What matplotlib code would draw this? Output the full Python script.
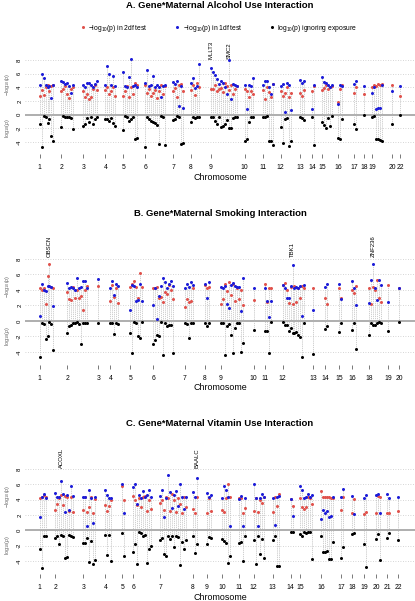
#!/usr/bin/env python3
"""
Gene x maternal exposure interaction scans: per-SNP -log10(p) for the 2df and
1df tests (above zero) and log10(p) ignoring exposure (below zero), grouped by
chromosome, for alcohol, smoking and vitamin use.

Output:
    out.png
"""
import matplotlib
matplotlib.use("Agg")
import matplotlib.pyplot as plt
from matplotlib.lines import Line2D

plt.rcParams["font.family"] = ["Liberation Sans", "DejaVu Sans"]
plt.rcParams["mathtext.fontset"] = "custom"
plt.rcParams["mathtext.rm"] = "Liberation Sans"
plt.rcParams["mathtext.it"] = "Liberation Sans:italic"

# ---------------------------------------------------------------- A: alcohol
alc_chroms = ["1", "2", "3", "4", "5", "6", "7", "8", "9", "10", "11", "12",
              "13", "14", "15", "16", "17", "18", "19", "20", "22"]
alc_start = [0, 11, 22, 33, 42, 53, 67, 76, 86, 103, 112, 121, 131, 137, 142,
             150, 158, 163, 167, 177, 181]
alc_2df = [
    [2.8, 3.6, 2.9, 4.0, 4.3, 3.5, 4.2, 4.4],
    [3.5, 3.7, 4.2, 3.0, 2.5, 3.8, 4.0],
    [3.4, 2.6, 3.0, 2.3, 2.6, 3.8, 4.3, 3.6],
    [3.6, 4.0, 3.0, 3.4, 4.1, 2.8],
    [2.7, 3.5, 4.2, 2.6, 4.0, 3.0, 4.7, 4.4],
    [4.4, 3.2, 3.8, 2.8, 3.2, 3.6, 2.5, 3.5, 4.4, 3.0, 4.2],
    [3.5, 3.9, 2.6, 4.4, 4.5, 3.4],
    [3.6, 4.3, 2.9, 4.6, 4.1],
    [3.7, 3.8, 4.3, 3.4, 3.7, 3.9, 3.3, 4.6, 4.2, 3.6, 4.4, 3.1, 3.8, 4.2],
    [3.8, 3.4, 2.6, 3.5, 3.0],
    [3.6, 2.3, 4.0, 3.3, 2.6, 4.5],
    [3.4, 2.8, 3.2, 4.0, 2.6, 3.2],
    [3.2, 2.8, 3.6],
    [3.4, 4.2],
    [3.6, 3.9, 4.3, 3.8, 4.1, 4.2],
    [1.9, 3.7, 4.4],
    [3.2, 4.0],
    [3.1],
    [4.1, 4.3, 4.2, 4.5, 4.4, 4.5],
    [4.4],
    [2.7],
]
alc_1df = [
    [4.3, 6.0, 5.4, 4.4, 4.0, 4.2, 2.5, 4.3],
    [5.0, 4.8, 4.5, 4.6, 4.2, 3.2, 4.3],
    [4.4, 4.0, 4.7, 4.6, 4.3, 4.0, 4.5, 4.9],
    [4.3, 7.1, 6.0, 4.3, 5.6, 4.2],
    [6.3, 4.2, 4.0, 5.5, 8.2, 4.2, 4.3, 4.0],
    [4.6, 6.6, 4.2, 4.4, 5.7, 4.0, 4.3, 4.1, 2.6, 4.2, 4.4],
    [4.8, 4.5, 5.0, 1.3, 4.2, 1.0],
    [4.6, 5.4, 3.9, 4.2, 7.4],
    [6.8, 6.3, 5.8, 5.2, 4.5, 5.0, 4.6, 4.0, 3.0, 8.0, 2.3, 4.5, 4.4, 4.2],
    [4.4, 0.9, 4.3, 4.2, 5.3],
    [4.4, 4.9, 4.9, 4.1, 3.0, 4.5],
    [4.2, 4.5, 0.4, 4.6, 4.4, 0.7],
    [5.1, 4.6, 4.9],
    [0.8, 4.4],
    [5.5, 4.8, 4.6, 4.3, 4.1, 4.3],
    [1.5, 4.3, 4.2],
    [4.5, 5.0],
    [4.2],
    [3.2, 4.0, 0.9, 1.0, 1.0, 4.3],
    [3.5],
    [4.2],
]
alc_marg = [
    [-1.3, -4.7, -0.2, -0.4, -1.2, -0.6, -3.1, -3.9],
    [-1.8, -0.2, -0.3, -0.4, -0.3, -0.5, -2.1],
    [-1.6, -1.4, -0.5, -1.0, -0.3, -1.3, -0.6, -0.3],
    [-0.6, -0.7, -0.9, -0.5, -1.2, -1.7],
    [-2.2, -0.2, -0.3, -0.9, -0.7, -0.3, -3.6, -3.4],
    [-4.7, -0.4, -0.6, -0.9, -1.0, -1.2, -1.5, -4.3, -0.2, -0.3, -4.4],
    [-0.8, -0.7, -0.2, -0.3, -4.3, -4.2],
    [-1.0, -0.3, -0.5, -0.3, -0.4],
    [-0.4, -0.3, -0.9, -1.3, -0.4, -1.8, -1.6, -1.3, -0.8, -1.9, -2.0, -0.5, -0.4, -0.3],
    [-3.9, -3.6, -1.1, -0.3, -0.4],
    [-0.3, -0.4, -0.2, -3.9, -3.9, -4.4],
    [-1.8, -4.1, -0.6, -0.5, -4.6, -3.9],
    [-0.3, -0.5, -0.8],
    [-0.3, -4.5],
    [-1.0, -1.5, -1.9, -0.5, -1.7, -0.2],
    [-3.4, -3.5, -0.7],
    [-1.3, -2.1],
    [-0.1],
    [-0.3, -0.2, -3.6, -3.5, -3.7, -3.8],
    [-1.3],
    [-0.1],
]
alc_genes = [("MLLT3", "9", 0), ("SMC2", "9", 9)]

# ---------------------------------------------------------------- B: smoking
smk_chroms = ["1", "2", "3", "4", "5", "6", "7", "8", "9", "10", "11", "12",
              "13", "14", "15", "16", "18", "19", "20"]
smk_start = [0, 14, 29.5, 35.5, 45.5, 57, 73, 83, 91, 107.5, 113, 122, 137.5,
             143.5, 150.5, 157, 165.5, 175, 180.5]
smk_2df = [
    [4.3, 4.0, 4.3, 2.2, 5.8, 7.4, 4.4, 4.3],
    [3.8, 2.8, 2.7, 4.4, 3.0, 4.0, 2.9, 3.2, 1.4, 4.0, 4.5],
    [4.5],
    [2.6, 4.6, 3.1, 4.3, 2.3],
    [4.4, 4.8, 5.2, 4.4, 3.0, 6.2, 4.4],
    [4.2, 4.3, 4.4, 2.9, 3.1, 2.5, 3.8, 3.5, 4.7, 4.0, 2.8],
    [1.8, 2.8, 2.5, 2.6, 4.2],
    [4.6, 4.2, 4.4],
    [2.2, 2.8, 4.8, 3.9, 5.0, 3.4, 4.8, 2.6, 4.3, 2.8, 4.0, 2.1],
    [2.7],
    [4.8, 2.5, 4.2, 4.2],
    [4.6, 4.9, 4.0, 2.3, 4.4, 2.2, 4.5, 2.4, 4.3, 3.0, 4.5, 4.3],
    [4.3],
    [2.9, 2.2],
    [4.3, 2.9],
    [4.0, 3.6, 4.5],
    [4.3, 2.2, 4.4, 4.0, 5.3, 3.0, 2.4],
    [4.6],
    [4.2],
]
smk_1df = [
    [0.6, 4.8, 4.0, 3.9, 4.5, 4.5, 4.4, 1.9],
    [4.9, 4.3, 4.4, 4.2, 4.0, 5.6, 4.2, 4.4, 5.2, 5.2, 4.3],
    [5.4],
    [4.3, 5.1, 3.3, 4.8, 4.5],
    [1.4, 4.6, 4.5, 2.6, 2.7, 4.8, 2.6],
    [2.0, 4.2, 0.3, 3.2, 4.5, 5.5, 5.0, 4.3, 4.8, 5.2, 4.5],
    [4.2, 4.8, 4.4, 5.0, 4.6],
    [4.8, 3.0, 5.0],
    [4.4, 4.3, 4.5, 2.2, 1.7, 4.7, 4.9, 4.5, 4.4, 4.4, 1.3, 5.5],
    [4.2],
    [4.2, 2.6, 0.5, 2.6],
    [4.7, 4.3, 3.0, 3.0, 4.5, 7.2, 4.3, 4.4, 4.2, 4.5, 0.6, 4.6],
    [1.4],
    [4.4, 4.8],
    [4.8, 2.8],
    [5.2, 4.2, 2.0],
    [2.3, 5.3, 7.3, 4.2, 2.7, 5.3, 4.7],
    [2.4],
    [4.2],
]
smk_marg = [
    [-4.7, -0.2, -0.4, -2.3, -2.0, -0.1, -0.4, -3.7],
    [-1.5, -0.6, -0.5, -0.3, -0.2, -0.1, -0.4, -3.0, -0.3, -0.2, -0.3],
    [-0.3],
    [-0.2, -0.3, -1.7, -0.2, -0.4],
    [-1.5, -4.2, -0.1, -0.2, -2.0, -2.2, -0.1],
    [-3.0, -2.4, -1.8, -1.9, -0.1, -4.4, -0.2, -0.6, -0.5, -0.5, -4.1],
    [-0.3, -0.4, -2.2, -0.2, -0.3],
    [-0.3, -0.6, -0.2],
    [-0.2, -0.3, -4.4, -0.6, -0.4, -1.8, -4.2, -0.9, -0.2, -0.3, -4.0, -2.8],
    [-1.2],
    [-1.3, -1.3, -4.2, -0.1],
    [-0.1, -0.5, -0.5, -1.3, -0.9, -1.5, -1.6, -1.4, -1.8, -2.1, -4.7, -0.3],
    [-4.3],
    [-1.0, -0.6],
    [-1.4, -0.2],
    [-1.2, -0.2, -3.6],
    [-1.8, -0.2, -0.5, -0.5, -0.2, -0.1, -0.3],
    [-1.3],
    [-0.1],
]
smk_genes = [("OBSCN", "1", 5), ("TBK1", "12", 5), ("ZNF236", "18", 2)]

# ---------------------------------------------------------------- C: vitamin
vit_chroms = ["1", "2", "3", "4", "5", "6", "7", "8", "9", "10", "11", "12",
              "13", "14", "15", "16", "17", "18", "19", "20", "21", "22"]
vit_start = [0, 8, 22, 33, 41.5, 47, 60.5, 77, 84, 91.5, 100, 107.5, 117, 126,
             131, 141.5, 151.5, 157, 163, 169, 174.5, 180]
vit_2df = [
    [4.2, 4.4, 4.6, 4.3],
    [2.7, 3.4, 4.2, 4.6, 3.3, 4.5, 4.4, 2.5, 4.3, 2.4],
    [2.6, 4.3, 2.4, 3.0, 4.4, 2.3, 4.1],
    [3.3, 2.5, 3.2, 3.9],
    [5.8, 3.9],
    [4.5, 4.0, 3.3, 4.2, 3.0, 4.3, 4.5, 2.5, 4.0, 2.8],
    [3.6, 4.0, 2.7, 4.4, 4.2, 2.5, 4.8, 3.9, 2.4, 4.2, 3.5, 2.3, 4.4, 3.0],
    [2.8, 2.3, 4.3],
    [2.3, 4.2, 2.5],
    [2.6, 2.4, 4.2, 6.1, 4.3],
    [4.2, 4.2, 2.2, 2.9],
    [2.5, 4.2, 2.4, 4.0, 3.6, 4.3],
    [2.4, 4.3, 3.2, 4.8],
    [4.1, 3.2],
    [4.2, 3.0, 2.8, 3.0, 4.4, 4.2, 3.4],
    [5.1, 4.3, 4.4, 4.4, 4.3, 4.2, 4.2],
    [2.7, 4.4],
    [2.3, 4.1],
    [2.1, 2.4],
    [2.3, 4.5, 4.3],
    [2.3, 2.2],
    [2.5],
]
vit_1df = [
    [1.8, 4.3, 4.7, 4.2],
    [4.9, 4.3, 4.4, 6.5, 4.7, 2.4, 4.6, 2.6, 5.8, 4.5],
    [4.4, 4.3, 0.5, 5.3, 4.2, 0.9, 4.3],
    [5.2, 4.6, 4.2, 4.2],
    [6.0, 2.3],
    [5.6, 6.1, 3.4, 4.6, 4.2, 5.1, 4.3, 4.6, 5.3, 4.3],
    [4.5, 5.2, 1.8, 4.2, 7.2, 5.0, 2.9, 4.6, 5.1, 3.2, 6.1, 4.3, 2.8, 4.4],
    [5.0, 4.3, 6.8],
    [4.9, 4.4, 4.6],
    [4.2, 5.8, 5.2, 4.4, 0.5],
    [4.1, 4.5, 0.5, 4.2],
    [6.0, 4.2, 0.5, 4.2, 4.8, 4.4],
    [4.2, 0.7, 4.3, 4.5],
    [4.1, 1.9],
    [5.8, 5.3, 4.2, 4.4, 4.8, 4.4, 4.6],
    [1.5, 2.7, 2.3, 2.5, 1.8, 1.9, 4.3],
    [4.3, 5.4],
    [4.5, 2.1],
    [4.2, 4.6],
    [4.6, 4.7, 2.2],
    [4.7, 4.2],
    [4.3],
]
vit_marg = [
    [-2.4, -4.9, -0.8, -0.8],
    [-1.0, -0.8, -1.8, -0.6, -0.7, -3.6, -3.5, -0.6, -0.8, -0.9],
    [-1.6, -1.6, -1.0, -4.2, -1.4, -4.4, -3.9],
    [-0.6, -3.2, -0.6, -4.0],
    [-0.3, -3.3],
    [-2.8, -1.8, -4.4, -0.2, -0.4, -0.7, -0.6, -4.3, -2.5, -2.1],
    [-1.3, -1.0, -3.1, -3.4, -0.8, -1.1, -0.8, -2.2, -0.7, -0.9, -4.5, -1.5, -2.5, -1.2],
    [-0.7, -3.0, -1.8],
    [-1.8, -0.9, -1.0],
    [-1.1, -1.4, -1.6, -4.3, -3.3],
    [-1.7, -1.5, -4.0, -0.8],
    [-1.2, -4.4, -0.7, -3.1, -1.1, -3.6],
    [-1.3, -0.8, -4.7, -4.6],
    [-0.2, -0.2],
    [-0.5, -0.7, -0.2, -0.3, -0.2, -0.2, -3.7],
    [-0.8, -2.8, -2.8, -2.7, -3.7, -3.8, -1.5],
    [-3.6, -2.2],
    [-0.5, -0.4],
    [-1.8, -4.8],
    [-1.1, -0.5, -3.9],
    [-1.0, -0.3],
    [-1.3],
]
vit_genes = [("ACOXL", "2", 3), ("BAALC", "8", 2)]

RED = "#E0524C"
BLUE = "#1C1CD8"
GREY = "#B4B4B4"
FIG_H = 601.0


def draw_panel(fig, rect, title, title_y, xlabel_y, chroms, starts,
               p2df, p1df, pmarg, genes):
    ax = fig.add_axes(rect)
    xs, top, red, blue, black = [], [], [], [], []
    for k in range(len(chroms)):
        for i in range(len(p2df[k])):
            xs.append(starts[k] + i)
            red.append(p2df[k][i])
            blue.append(p1df[k][i])
            black.append(pmarg[k][i])
            top.append(max(p2df[k][i], p1df[k][i]))

    for y in [-4, -2, 2, 4, 6, 8]:
        ax.axhline(y, color="#C8C8C8", lw=0.6, ls=(0, (1, 2)), zorder=0)
    ax.axhline(0, color="#A8A8A8", lw=1.3, zorder=1)

    ax.vlines(xs, black, top, colors=GREY, lw=0.45, linestyles=(0, (2, 1.4)),
              zorder=2)
    ax.scatter(xs, red, s=4.8, color=RED, lw=0, zorder=3)
    ax.scatter(xs, blue, s=4.8, color=BLUE, lw=0, zorder=4)
    ax.scatter(xs, black, s=4.8, color="black", lw=0, zorder=5)

    for name, chrom, idx in genes:
        k = chroms.index(chrom)
        ax.text(starts[k] + idx, 8.2, name, rotation=90, ha="center",
                va="bottom", fontsize=4.3, clip_on=False)

    ax.set_xlim(-7.3, 188.5)
    ax.set_ylim(-5.3, 9.6)
    for side in ["top", "right", "left", "bottom"]:
        ax.spines[side].set_visible(False)
    ax.spines["bottom"].set_position(("outward", 2))
    ax.set_xticks(starts)
    ax.set_xticklabels(chroms, fontsize=4.9)
    ax.tick_params(axis="x", length=3, width=0.5, color="#444444", pad=4.5)
    ax.set_yticks([-4, -2, 0, 2, 4, 6, 8])
    ax.set_yticklabels(["-4", "-2", "0", "2", "4", "6", "8"], rotation=90,
                       va="center", fontsize=4.3)
    ax.tick_params(axis="y", length=0, pad=2)

    ax.text(-0.046, 4.5, r"$-\mathrm{log}_{10}(p)$", rotation=90,
            transform=ax.get_yaxis_transform(), ha="center", va="center",
            fontsize=4.0, color="#666666")
    ax.text(-0.046, -1.9, r"$\mathrm{log}_{10}(p)$", rotation=90,
            transform=ax.get_yaxis_transform(), ha="center", va="center",
            fontsize=4.0, color="#666666")

    fig.text(0.53, 1 - title_y / FIG_H, title, ha="center", va="center",
             fontsize=6.8, fontweight="bold")
    fig.text(0.53, 1 - xlabel_y / FIG_H, "Chromosome", ha="center",
             va="center", fontsize=6.4)
    return ax


def main():
    fig = plt.figure(figsize=(4.15, 6.01), dpi=100)
    left, width = 25 / 415, 390 / 415

    draw_panel(fig, [left, 1 - 150.9 / FIG_H, width, 101.8 / FIG_H],
               "A. Gene*Maternal Alcohol Use Interaction", 6, 178,
               alc_chroms, alc_start, alc_2df, alc_1df, alc_marg, alc_genes)
    draw_panel(fig, [left, 1 - 362 / FIG_H, width, 115.4 / FIG_H],
               "B. Gene*Maternal Smoking Interaction", 213, 387,
               smk_chroms, smk_start, smk_2df, smk_1df, smk_marg, smk_genes)
    draw_panel(fig, [left, 1 - 570.9 / FIG_H, width, 114.1 / FIG_H],
               "C. Gene*Maternal Vitamin Use Interaction", 423, 598,
               vit_chroms, vit_start, vit_2df, vit_1df, vit_marg, vit_genes)

    handles = [
        Line2D([], [], marker="o", ls="none", color=RED, ms=2.2, mew=0),
        Line2D([], [], marker="o", ls="none", color=BLUE, ms=2.2, mew=0),
        Line2D([], [], marker="o", ls="none", color="black", ms=2.2, mew=0),
    ]
    labels = [r"$-\mathrm{log}_{10}$(p) in 2df test",
              r"$-\mathrm{log}_{10}$(p) in 1df test",
              r"$\mathrm{log}_{10}$(p) ignoring exposure"]
    fig.legend(handles, labels, loc="center", ncol=3, frameon=False,
               bbox_to_anchor=(0.528, 1 - 28 / FIG_H), fontsize=4.9,
               handlelength=0.6, handletextpad=0.5, columnspacing=4.0)

    fig.add_artist(Line2D([137 / 415, 1.0], [0.5 / FIG_H, 0.5 / FIG_H],
                          color="#9A9A9A", lw=0.6))

    fig.savefig("out.png", dpi=100)
    plt.close(fig)


if __name__ == "__main__":
    main()
